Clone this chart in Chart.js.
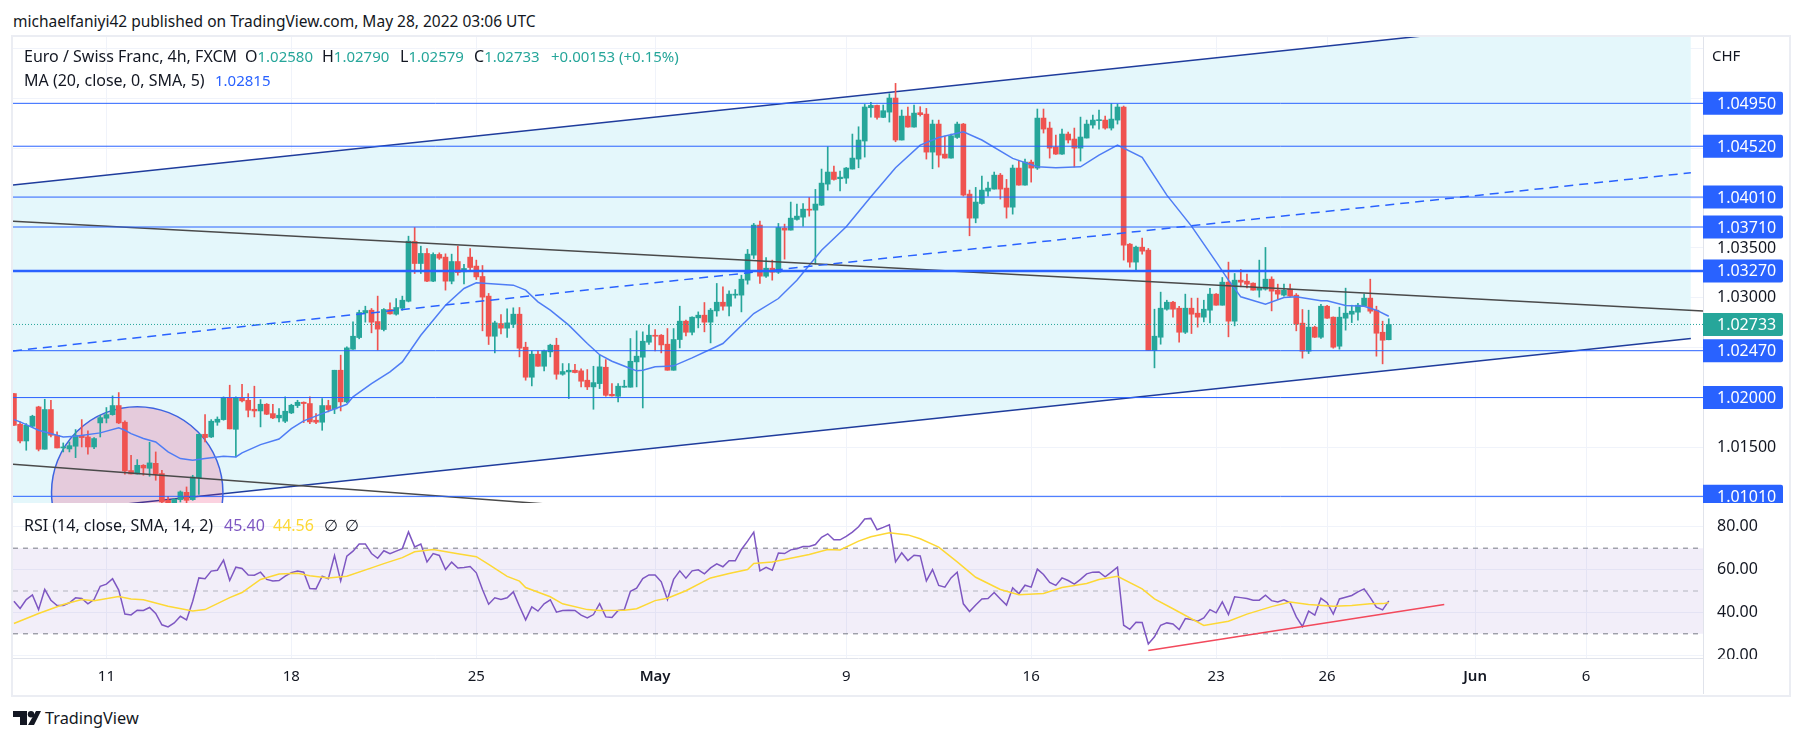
<!DOCTYPE html>
<html>
<head>
<meta charset="utf-8">
<style>
  body { margin: 0; background: #fff; width: 1802px; height: 742px; overflow: hidden; position: relative;
         font-family: "Noto Sans", sans-serif; color: #131722; }
  canvas { position: absolute; left: 13px; }
  .t { position: absolute; font-size: 16px; line-height: 18px; white-space: pre; }
  .v { font-size: 15px; }
  #frame { position: absolute; left: 11px; top: 35px; width: 1776px; height: 658px; border: 2px solid #ebedf3; }
  #axisLine { position: absolute; left: 1703px; top: 658px; width: 1px; height: 36px; background: #e0e3eb; }
  #axisCover { position: absolute; left: 1704px; top: 659px; width: 83px; height: 8px; background: #fff; }
</style>
</head>
<body>
<div id="frame"></div>
<canvas id="priceChart" width="1775" height="466" style="top:37px"></canvas>
<canvas id="rsiChart" width="1775" height="191" style="top:503px"></canvas>
<div id="axisLine"></div>
<div id="axisCover"></div>

<div class="t" style="left:13px;top:12px;font-size:15.5px">michaelfaniyi42 published on TradingView.com, May 28, 2022 03:06 UTC</div>

<div class="t" style="left:24px;top:47px">Euro / Swiss Franc, 4h, FXCM</div>
<div class="t" style="left:245px;top:47px">O<span class="v" style="color:#26a69a">1.02580</span></div>
<div class="t" style="left:322px;top:47px">H<span class="v" style="color:#26a69a">1.02790</span></div>
<div class="t" style="left:400px;top:47px">L<span class="v" style="color:#26a69a">1.02579</span></div>
<div class="t" style="left:474px;top:47px">C<span class="v" style="color:#26a69a">1.02733</span></div>
<div class="t v" style="left:551px;top:47px;color:#26a69a">+0.00153 (+0.15%)</div>
<div class="t" style="left:24px;top:71px">MA (20, close, 0, SMA, 5)</div>
<div class="t v" style="left:215px;top:71px;color:#2962ff">1.02815</div>
<div class="t" style="left:1712px;top:46px;font-size:15px">CHF</div>

<div class="t" style="left:24px;top:516px">RSI (14, close, SMA, 14, 2)</div>
<div class="t" style="left:224px;top:516px;color:#7e57c2">45.40</div>
<div class="t" style="left:273px;top:516px;color:#fdd835">44.56</div>
<div class="t" style="left:324px;top:516px">∅</div>
<div class="t" style="left:345px;top:516px">∅</div>

<svg style="position:absolute;left:13px;top:711px" width="28" height="15" viewBox="0 0 28 15">
  <path d="M0 0H14V14H7V6H0Z M23 0H28L21 14H15Z" fill="#131722"/><circle cx="18" cy="3.2" r="3.2" fill="#131722"/>
</svg>
<div class="t" style="left:45px;top:707px;font-size:16.3px;line-height:22px">TradingView</div>

<script src="https://cdn.jsdelivr.net/npm/chart.js@4"></script>
<script>
// Nến 4h EUR/CHF
const candleOpen = [
  1.02040,1.01732,1.01565,1.01712,1.01906,1.01482,1.01880,1.01622,1.01495,1.01485,
  1.01512,1.01622,1.01605,1.01505,1.01746,1.01793,1.01829,1.01920,1.01753,1.01268,
  1.01234,1.01321,1.01291,1.01341,1.01238,1.00970,1.00937,1.00977,1.01050,1.00977,
  1.01197,1.01632,1.01605,1.01753,1.01779,1.02000,1.01682,1.01993,1.01973,1.01883,
  1.01866,1.01933,1.01839,1.01796,1.01763,1.01846,1.01920,1.01953,1.01940,1.01773,
  1.01753,1.01920,1.01886,1.02274,1.01957,1.02485,1.02602,1.02849,1.02876,1.02762,
  1.02682,1.02883,1.02836,1.02896,1.02966,1.03565,1.03344,1.03445,1.03167,1.03435,
  1.03408,1.03167,1.03364,1.03261,1.03408,1.03318,1.03214,1.03017,1.02615,1.02742,
  1.02696,1.02736,1.02836,1.02505,1.02204,1.02435,1.02314,1.02458,1.02525,1.02234,
  1.02257,1.02274,1.02268,1.02174,1.02107,1.02140,1.02304,1.02033,1.02013,1.02104,
  1.02104,1.02358,1.02405,1.02555,1.02625,1.02625,1.02535,1.02274,1.02582,1.02766,
  1.02655,1.02799,1.02826,1.02756,1.02869,1.02956,1.02916,1.03027,1.03027,1.03177,
  1.03428,1.03729,1.03217,1.03297,1.03257,1.03699,1.03679,1.03786,1.03809,1.03886,
  1.03879,1.03929,1.04140,1.04261,1.04194,1.04200,1.04291,1.04391,1.04572,1.04906,
  1.04929,1.04809,1.04862,1.05003,1.04582,1.04822,1.04712,1.04856,1.04842,1.04461,
  1.04742,1.04441,1.04401,1.04608,1.04742,1.04040,1.03799,1.03946,1.04070,1.04090,
  1.04230,1.04100,1.03909,1.04301,1.04130,1.04361,1.04301,1.04802,1.04702,1.04511,
  1.04441,1.04642,1.04592,1.04501,1.04602,1.04732,1.04776,1.04782,1.04702,1.04782,
  1.04913,1.03538,1.03358,1.03508,1.03478,1.02472,1.02605,1.02886,1.02956,1.02896,
  1.02655,1.02896,1.02846,1.02806,1.02876,1.03037,1.02926,1.03157,1.02766,1.03177,
  1.03167,1.03147,1.03077,1.03087,1.03187,1.03077,1.03027,1.03087,1.03027,1.02746,
  1.02465,1.02706,1.02605,1.02916,1.02806,1.02515,1.02796,1.02836,1.02856,1.02916,
  1.02997,1.02876,1.02655,1.02580
];
const candleHigh = [
  1.02040,1.01756,1.01739,1.01823,1.01913,1.01983,1.01973,1.01656,1.01545,1.01555,
  1.01679,1.01779,1.01666,1.01599,1.01823,1.01900,1.02017,1.02050,1.01766,1.01421,
  1.01378,1.01328,1.01552,1.01455,1.01271,1.01010,1.00987,1.01064,1.01104,1.01221,
  1.01632,1.01829,1.01779,1.01806,1.02007,1.02124,1.02007,1.02134,1.02040,1.02114,
  1.01980,1.01940,1.01933,1.01890,1.02007,1.01933,1.01973,1.01957,1.02007,1.01840,
  1.01990,1.01973,1.02274,1.02425,1.02508,1.02759,1.02876,1.02916,1.02893,1.03017,
  1.02893,1.02950,1.02993,1.03017,1.03618,1.03705,1.03518,1.03495,1.03451,1.03451,
  1.03441,1.03438,1.03518,1.03337,1.03495,1.03378,1.03324,1.03044,1.02766,1.02833,
  1.02890,1.02900,1.02903,1.02555,1.02468,1.02468,1.02475,1.02535,1.02595,1.02341,
  1.02341,1.02334,1.02288,1.02281,1.02314,1.02425,1.02381,1.02140,1.02140,1.02174,
  1.02592,1.02669,1.02659,1.02726,1.02682,1.02632,1.02692,1.02692,1.02916,1.02776,
  1.02809,1.02859,1.02953,1.02893,1.03144,1.03110,1.03070,1.03083,1.03227,1.03485,
  1.03746,1.03769,1.03404,1.03378,1.03746,1.03739,1.03960,1.03940,1.03946,1.04006,
  1.04087,1.04291,1.04515,1.04321,1.04271,1.04307,1.04642,1.04715,1.04939,1.04959,
  1.04933,1.04933,1.05046,1.05150,1.04883,1.04913,1.04933,1.04916,1.04899,1.04782,
  1.04782,1.04622,1.04642,1.04762,1.04749,1.04080,1.04107,1.04220,1.04160,1.04261,
  1.04247,1.04187,1.04331,1.04371,1.04391,1.04381,1.04893,1.04893,1.04762,1.04632,
  1.04692,1.04662,1.04702,1.04812,1.04782,1.04832,1.04883,1.04822,1.04949,1.04943,
  1.04923,1.03545,1.03518,1.03598,1.03495,1.02886,1.03057,1.02976,1.02966,1.02916,
  1.03037,1.02997,1.02997,1.02976,1.03094,1.03043,1.03204,1.03358,1.03244,1.03284,
  1.03237,1.03150,1.03378,1.03505,1.03211,1.03137,1.03137,1.03137,1.03043,1.02883,
  1.02876,1.02716,1.02936,1.02926,1.02809,1.02906,1.03097,1.02926,1.02946,1.03037,
  1.03187,1.02916,1.02766,1.02790
];
const candleLow = [
  1.01722,1.01545,1.01472,1.01706,1.01465,1.01482,1.01605,1.01495,1.01455,1.01455,
  1.01398,1.01505,1.01432,1.01488,1.01605,1.01746,1.01823,1.01739,1.01231,1.01234,
  1.01234,1.01221,1.01211,1.01171,1.00937,1.00903,1.00920,1.00953,1.00920,1.00970,
  1.01030,1.01555,1.01599,1.01722,1.01773,1.01686,1.01405,1.01957,1.01806,1.01806,
  1.01706,1.01829,1.01789,1.01756,1.01749,1.01839,1.01900,1.01749,1.01739,1.01739,
  1.01672,1.01856,1.01839,1.01866,1.01950,1.02482,1.02589,1.02756,1.02649,1.02475,
  1.02669,1.02836,1.02826,1.02876,1.02959,1.03244,1.03244,1.03161,1.03161,1.03385,
  1.03077,1.03140,1.03227,1.03140,1.03277,1.03184,1.02669,1.02532,1.02448,1.02639,
  1.02602,1.02702,1.02408,1.02174,1.02117,1.02314,1.02268,1.02408,1.02184,1.02224,
  1.01990,1.02247,1.02107,1.02080,1.01883,1.02090,1.02013,1.02013,1.01957,1.02104,
  1.02104,1.02107,1.01896,1.02532,1.02468,1.02448,1.02274,1.02274,1.02498,1.02619,
  1.02629,1.02699,1.02659,1.02548,1.02816,1.02876,1.02819,1.02997,1.02859,1.03137,
  1.03394,1.03144,1.03204,1.03177,1.03244,1.03388,1.03679,1.03779,1.03719,1.03819,
  1.03338,1.03926,1.04080,1.04180,1.04073,1.04147,1.04291,1.04304,1.04411,1.04812,
  1.04792,1.04806,1.04762,1.04565,1.04582,1.04712,1.04712,1.04822,1.04391,1.04294,
  1.04311,1.04401,1.04401,1.04598,1.04020,1.03622,1.03752,1.03940,1.04020,1.04090,
  1.03990,1.03799,1.03839,1.04130,1.04130,1.04160,1.04287,1.04652,1.04401,1.04438,
  1.04438,1.04552,1.04311,1.04371,1.04602,1.04702,1.04692,1.04692,1.04682,1.04742,
  1.03378,1.03307,1.03271,1.03438,1.02472,1.02298,1.02535,1.02876,1.02806,1.02555,
  1.02642,1.02642,1.02706,1.02759,1.02749,1.02926,1.02926,1.02609,1.02719,1.03110,
  1.03100,1.03077,1.03007,1.03077,1.02869,1.02986,1.03017,1.03010,1.02669,1.02395,
  1.02441,1.02602,1.02592,1.02793,1.02495,1.02485,1.02676,1.02752,1.02776,1.02913,
  1.02846,1.02415,1.02338,1.02579
];
const candleClose = [
  1.01722,1.01565,1.01722,1.01813,1.01482,1.01880,1.01622,1.01495,1.01505,1.01518,
  1.01619,1.01599,1.01505,1.01589,1.01799,1.01829,1.01920,1.01746,1.01264,1.01234,
  1.01321,1.01294,1.01345,1.01231,1.00953,1.00937,1.00980,1.01054,1.00970,1.01204,
  1.01632,1.01599,1.01763,1.01783,1.02000,1.01686,1.02000,1.01967,1.01873,1.01866,
  1.01933,1.01833,1.01796,1.01823,1.01863,1.01923,1.01953,1.01940,1.01756,1.01753,
  1.01920,1.01880,1.02274,1.01957,1.02498,1.02615,1.02853,1.02873,1.02756,1.02686,
  1.02883,1.02839,1.02903,1.02976,1.03568,1.03344,1.03445,1.03167,1.03435,1.03398,
  1.03167,1.03364,1.03254,1.03294,1.03304,1.03210,1.03007,1.02615,1.02749,1.02696,
  1.02749,1.02836,1.02495,1.02204,1.02435,1.02314,1.02468,1.02525,1.02234,1.02261,
  1.02274,1.02251,1.02164,1.02107,1.02150,1.02308,1.02023,1.02017,1.02114,1.02114,
  1.02364,1.02415,1.02565,1.02625,1.02615,1.02528,1.02274,1.02582,1.02766,1.02655,
  1.02806,1.02826,1.02756,1.02876,1.02956,1.02916,1.03037,1.03033,1.03187,1.03438,
  1.03729,1.03217,1.03297,1.03257,1.03705,1.03679,1.03799,1.03819,1.03889,1.03879,
  1.03940,1.04150,1.04261,1.04187,1.04210,1.04301,1.04401,1.04582,1.04913,1.04929,
  1.04809,1.04876,1.05003,1.04582,1.04822,1.04712,1.04852,1.04836,1.04461,1.04742,
  1.04431,1.04401,1.04625,1.04742,1.04030,1.03799,1.03960,1.04080,1.04100,1.04230,
  1.04090,1.03909,1.04301,1.04130,1.04361,1.04301,1.04802,1.04692,1.04501,1.04441,
  1.04642,1.04582,1.04501,1.04612,1.04742,1.04782,1.04782,1.04702,1.04792,1.04913,
  1.03528,1.03358,1.03508,1.03468,1.02472,1.02615,1.02896,1.02956,1.02886,1.02655,
  1.02896,1.02836,1.02806,1.02886,1.03037,1.02926,1.03157,1.02766,1.03177,1.03157,
  1.03137,1.03077,1.03097,1.03187,1.03067,1.03037,1.03077,1.03017,1.02736,1.02465,
  1.02706,1.02605,1.02916,1.02796,1.02505,1.02806,1.02846,1.02866,1.02926,1.02997,
  1.02866,1.02645,1.02575,1.02733
];

// RSI(14) theo từng nến
const rsiValues = [
  45.2,41.8,46.0,48.2,41.3,50.7,45.7,43.2,43.2,44.5,46.8,46.5,44.0,46.0,52.2,53.2,55.7,50.4,39.2,38.8,
  41.0,40.9,42.3,39.5,34.2,33.2,35.1,38.2,36.5,45.2,56.1,55.7,59.3,59.7,64.4,54.9,61.1,60.5,57.5,57.4,
  58.8,55.4,54.7,54.9,56.9,58.6,59.3,58.8,51.2,51.0,56.9,55.7,66.6,54.7,66.3,68.6,71.9,72.0,67.5,65.3,
  68.8,67.4,68.6,69.8,77.6,70.6,71.9,63.6,67.5,66.6,60.0,63.5,60.7,61.0,61.4,58.5,50.7,43.8,46.8,46.0,
  46.8,49.6,42.9,36.5,42.6,40.6,44.0,45.9,40.1,40.9,41.0,40.9,38.7,37.4,39.0,44.1,37.9,37.6,40.9,41.2,
  49.9,51.3,55.8,57.5,57.5,54.3,46.0,55.4,59.4,56.0,59.4,59.9,58.0,60.8,62.7,61.3,64.1,64.1,69.4,73.3,
  77.5,59.4,61.0,59.7,67.7,67.5,69.2,69.7,70.8,70.8,71.7,75.1,76.7,73.9,73.9,75.5,77.5,80.0,83.6,83.9,
  78.6,79.7,80.9,63.6,67.8,64.2,66.7,66.4,54.7,60.0,52.6,51.8,56.1,58.8,44.0,40.4,43.5,46.3,46.5,49.3,
  46.3,43.4,51.5,48.7,52.7,51.8,60.2,57.7,54.0,52.6,56.1,54.9,53.2,55.4,58.0,58.8,58.9,56.6,58.8,61.1,
  34.0,32.1,35.4,35.3,25.3,28.6,34.0,35.1,34.6,32.0,37.1,36.7,35.9,37.4,41.3,39.8,44.9,39.0,47.3,46.9,
  46.5,45.7,45.7,48.0,45.5,44.9,45.9,44.5,37.9,33.4,40.6,38.7,46.6,44.5,39.2,46.3,47.1,47.9,49.6,51.0,
  46.9,42.4,41.2,45.4
];

// Đường MA(20): các điểm đọc được trên đường cong
const maIndex = [
  0,1,4,8,10,14,17,18,19,21,23,25,27,29,31,34,36,37,40,43,45,47,50,54,55,58,61,63,66,68,70,73,75,81,83,85,87,90,93,95,
  97,100,101,102,104,106,107,110,115,120,124,127,131,135,139,143,147,150,154,157,162,166,169,173,176,179,183,187,191,195,
  197,199,203,206,208,212,213,216,219,221,223
];
const maValues = [
  1.01779,1.01756,1.01672,1.01605,1.01612,1.01646,1.01696,1.01672,1.01639,1.01589,1.01555,1.01455,1.01388,1.01371,1.01388,1.01411,
  1.01405,1.01445,1.01528,1.01585,1.01689,1.01766,1.01839,1.01933,1.02007,1.02140,1.02257,1.02358,1.02625,1.02776,1.02926,1.03094,
  1.03150,1.03127,1.03077,1.02960,1.02876,1.02726,1.02542,1.02430,1.02364,1.02291,1.02268,1.02274,1.02308,1.02314,1.02318,1.02398,
  1.02542,1.02843,1.02993,1.03177,1.03478,1.03712,1.04013,1.04304,1.04531,1.04608,1.04665,1.04582,1.04398,1.04314,1.04304,1.04314,
  1.04431,1.04531,1.04408,1.04030,1.03719,1.03361,1.03177,1.03010,1.02936,1.03003,1.03010,1.02970,1.02970,1.02923,1.02916,1.02876,1.02815
];

// Đường tín hiệu của RSI
const rsiMaIndex = [
  0,4,8,11,13,17,19,21,25,29,31,35,37,40,43,46,48,51,54,58,60,63,65,68,72,75,77,80,82,83,87,89,93,95,99,101,104,106,109,113,116,
  119,120,123,129,132,134,137,139,142,145,147,150,153,156,160,163,167,170,174,176,179,183,185,188,193,197,200,204,207,210,214,217,220,222,223
];
const rsiMaValues = [
  34.8,39.5,43.7,46.0,45.5,47.4,46.3,45.9,42.9,40.7,41.3,46.9,49.3,55.4,57.9,58.3,57.1,56.1,56.9,60.8,62.8,65.6,68.3,69.4,67.4,66.0,62.4,
  56.8,54.6,51.6,47.3,44.0,41.3,40.9,41.0,41.7,45.5,46.6,50.1,56.1,58.2,60.0,62.8,63.5,67.0,69.4,69.2,73.3,75.3,77.2,76.2,74.4,70.5,63.6,
  56.4,50.7,48.3,48.8,51.6,53.5,55.4,56.9,51.0,46.3,41.7,33.9,35.9,39.2,42.7,44.9,43.7,42.9,43.2,44.0,44.1,44.56
];

// Các mức giá nằm ngang và nhãn trên trục
const priceLevels = [1.0495, 1.0452, 1.0401, 1.0371, 1.0327, 1.0247, 1.02, 1.0101];
const thickLevel = 1.0327;
const priceGridTicks = [1.055, 1.05, 1.045, 1.04, 1.035, 1.03, 1.025, 1.02, 1.015, 1.01];
const priceTickLabels = [1.035, 1.03, 1.015];
const rsiTicks = [20, 40, 60, 80];
const rsiBands = [70, 50, 30];

// Trục thời gian
const timeTickIndex = [15, 45, 75, 104, 135, 165, 195, 213, 237, 255];
const timeTickLabels = ["11", "18", "25", "May", "9", "16", "23", "26", "Jun", "6"];

// Đường vẽ tay: [chỉ số nến đầu, giá đầu, chỉ số nến cuối, giá cuối]
const channelTop = [-0.15, 1.04130, 272, 1.05910];
const channelMid = [-0.15, 1.02468, 272, 1.04254];
const channelBottom = [-0.15, 1.00813, 272, 1.02592];
const blackLineUpper = [-0.15, 1.03769, 274, 1.02869];
const blackLineLower = [-0.15, 1.01331, 100, 1.00870];
const rsiTrend = [184, 22.2, 232, 43.7];
const circleIndex = 20;
const circlePrice = 1.0105;

// Phạm vi hiển thị
const xMin = -0.15, xMax = 273.97;
const priceMin = 1.00943, priceMax = 1.05615;
const rsiMin = 18.7, rsiMax = 91.1;

const green = "#26a69a", red = "#ef5350", blue = "#2962ff", navy = "#1f3c9c";
const gridColor = "#f0f3fa", borderColor = "#e0e3eb";
const fontFamily = '"Noto Sans", sans-serif';
const axisWidth = 85;
const circleRadius = 85.7;

function segment(points, extra) {
    return Object.assign({
        type: "line",
        data: [{ x: points[0], y: points[1] }, { x: points[2], y: points[3] }],
        pointRadius: 0,
        tension: 0,
        fill: false,
    }, extra);
}

function hLine(value, extra) {
    return segment([xMin, value, xMax, value], extra);
}

// Trục y: cố định bề rộng và bỏ phần đệm do nhãn gây ra
function fitYAxis(scale) {
    scale.width = axisWidth;
    scale.paddingTop = 0;
    scale.paddingBottom = 0;
}

function fitXAxis(height) {
    return scale => {
        scale.height = height;
        scale.paddingLeft = 0;
        scale.paddingRight = 0;
    };
}

const candleIndex = candleOpen.map((_, i) => i);
const candleColors = candleIndex.map(i => (candleClose[i] >= candleOpen[i] ? green : red));
const lastClose = candleClose[candleClose.length - 1];

// Vẽ hình tròn ngay trước lớp nến
const circlePlugin = {
    id: "circle",
    beforeDatasetDraw(chart, args) {
        if (chart.data.datasets[args.index].label !== "wick") return;
        const { ctx, chartArea, scales } = chart;
        ctx.save();
        ctx.beginPath();
        ctx.rect(chartArea.left, chartArea.top, chartArea.width, chartArea.height);
        ctx.clip();
        ctx.beginPath();
        ctx.arc(scales.x.getPixelForValue(circleIndex), scales.y.getPixelForValue(circlePrice), circleRadius, 0, Math.PI * 2);
        ctx.fillStyle = "rgba(233, 30, 99, 0.2)";
        ctx.fill();
        ctx.strokeStyle = "#3d63e0";
        ctx.lineWidth = 1.5;
        ctx.stroke();
        ctx.restore();
    },
};

// Vẽ các ô giá màu xanh ở trục bên phải
const badgePlugin = {
    id: "badges",
    afterDraw(chart) {
        const { ctx, chartArea, scales } = chart;
        const drawBadge = (value, color) => {
            const y = scales.y.getPixelForValue(value);
            ctx.fillStyle = color;
            ctx.beginPath();
            ctx.roundRect(chartArea.right, y - 11.5, 80, 23, [0, 2, 2, 0]);
            ctx.fill();
            ctx.fillStyle = "#fff";
            ctx.font = "16px " + fontFamily;
            ctx.textBaseline = "middle";
            ctx.textAlign = "left";
            ctx.fillText(value.toFixed(5), chartArea.right + 14, y + 1);
        };
        priceLevels.forEach(level => drawBadge(level, blue));
        drawBadge(lastClose, green);
    },
};

new Chart(document.getElementById("priceChart"), {
    type: "bar",
    plugins: [circlePlugin, badgePlugin],
    data: {
        datasets: [
            segment(channelTop, { borderColor: navy, borderWidth: 1.5, fill: "+1", backgroundColor: "#e4f7fb", order: 30 }),
            segment(channelBottom, { borderColor: navy, borderWidth: 1.5, order: 29 }),
            {
                label: "wick",
                data: candleIndex.map(i => ({ x: i, y: [candleLow[i], candleHigh[i]] })),
                backgroundColor: candleColors,
                barThickness: 1,
                grouped: false,
                order: 11,
            },
            {
                label: "body",
                data: candleIndex.map(i => ({ x: i, y: [Math.min(candleOpen[i], candleClose[i]), Math.max(candleOpen[i], candleClose[i])] })),
                backgroundColor: candleColors,
                barThickness: 5,
                minBarLength: 1,
                grouped: false,
                order: 10,
            },
            {
                type: "line",
                data: maIndex.map((x, i) => ({ x, y: maValues[i] })),
                borderColor: "#4f7df5",
                borderWidth: 1.5,
                pointRadius: 0,
                tension: 0,
                order: 5,
            },
            segment(channelMid, { borderColor: blue, borderWidth: 1.5, borderDash: [9, 6], order: 4 }),
            segment(blackLineUpper, { borderColor: "#4a4a4a", borderWidth: 1.5, order: 4 }),
            segment(blackLineLower, { borderColor: "#4a4a4a", borderWidth: 1.5, order: 4 }),
            ...priceLevels.map(level => hLine(level, { borderColor: blue, borderWidth: level === thickLevel ? 2.5 : 1, order: 3 })),
            hLine(lastClose, { borderColor: green, borderWidth: 1, borderDash: [1, 2], order: 3 }),
        ],
    },
    options: {
        responsive: false,
        animation: false,
        events: [],
        layout: { autoPadding: false, padding: 0 },
        plugins: { legend: { display: false }, tooltip: { enabled: false } },
        scales: {
            x: {
                type: "linear",
                offset: false,
                min: xMin,
                max: xMax,
                afterFit: fitXAxis(0),
                afterBuildTicks: scale => { scale.ticks = timeTickIndex.map(value => ({ value })); },
                ticks: { display: false },
                grid: { offset: false, color: gridColor, drawTicks: false },
                border: { color: borderColor },
            },
            y: {
                position: "right",
                min: priceMin,
                max: priceMax,
                afterFit: fitYAxis,
                afterBuildTicks: scale => { scale.ticks = priceGridTicks.map(value => ({ value })); },
                ticks: {
                    color: "#131722",
                    padding: 14,
                    autoSkip: false,
                    font: { family: fontFamily, size: 16 },
                    callback: value => (priceTickLabels.includes(value) ? value.toFixed(5) : ""),
                },
                grid: { color: gridColor, drawTicks: false },
                border: { color: borderColor },
            },
        },
    },
});

new Chart(document.getElementById("rsiChart"), {
    type: "line",
    data: {
        datasets: [
            hLine(rsiBands[0], { borderColor: "#787b86", borderWidth: 1, borderDash: [5, 5], fill: "+1", backgroundColor: "rgba(126, 87, 194, 0.1)", order: 20 }),
            hLine(rsiBands[2], { borderColor: "#787b86", borderWidth: 1, borderDash: [5, 5], order: 19 }),
            hLine(rsiBands[1], { borderColor: "#b2b5be", borderWidth: 1, borderDash: [5, 5], order: 19 }),
            {
                data: candleIndex.map(i => ({ x: i, y: rsiValues[i] })),
                borderColor: "#7e57c2",
                borderWidth: 1.5,
                pointRadius: 0,
                tension: 0,
                order: 2,
            },
            {
                data: rsiMaIndex.map((x, i) => ({ x, y: rsiMaValues[i] })),
                borderColor: "#fdd835",
                borderWidth: 1.5,
                pointRadius: 0,
                tension: 0,
                order: 1,
            },
            segment(rsiTrend, { borderColor: "#f2495c", borderWidth: 1.5, order: 1 }),
        ],
    },
    options: {
        responsive: false,
        animation: false,
        events: [],
        layout: { autoPadding: false, padding: 0 },
        plugins: { legend: { display: false }, tooltip: { enabled: false } },
        scales: {
            x: {
                type: "linear",
                min: xMin,
                max: xMax,
                afterFit: fitXAxis(36),
                afterBuildTicks: scale => { scale.ticks = timeTickIndex.map(value => ({ value })); },
                ticks: {
                    color: "#131722",
                    padding: 10,
                    maxRotation: 0,
                    autoSkip: false,
                    font: ctx => ({
                        family: fontFamily,
                        size: 15,
                        weight: isNaN(Number(timeTickLabels[ctx.index])) ? "600" : "400",
                    }),
                    callback: (value, index) => timeTickLabels[index],
                },
                grid: { color: gridColor, drawTicks: false },
                border: { color: borderColor },
            },
            y: {
                position: "right",
                min: rsiMin,
                max: rsiMax,
                afterFit: fitYAxis,
                afterBuildTicks: scale => { scale.ticks = rsiTicks.map(value => ({ value })); },
                ticks: {
                    color: "#131722",
                    padding: 14,
                    autoSkip: false,
                    font: { family: fontFamily, size: 16 },
                    callback: value => value.toFixed(2),
                },
                grid: { color: gridColor, drawTicks: false },
                border: { color: borderColor },
            },
        },
    },
});
</script>
</body>
</html>
